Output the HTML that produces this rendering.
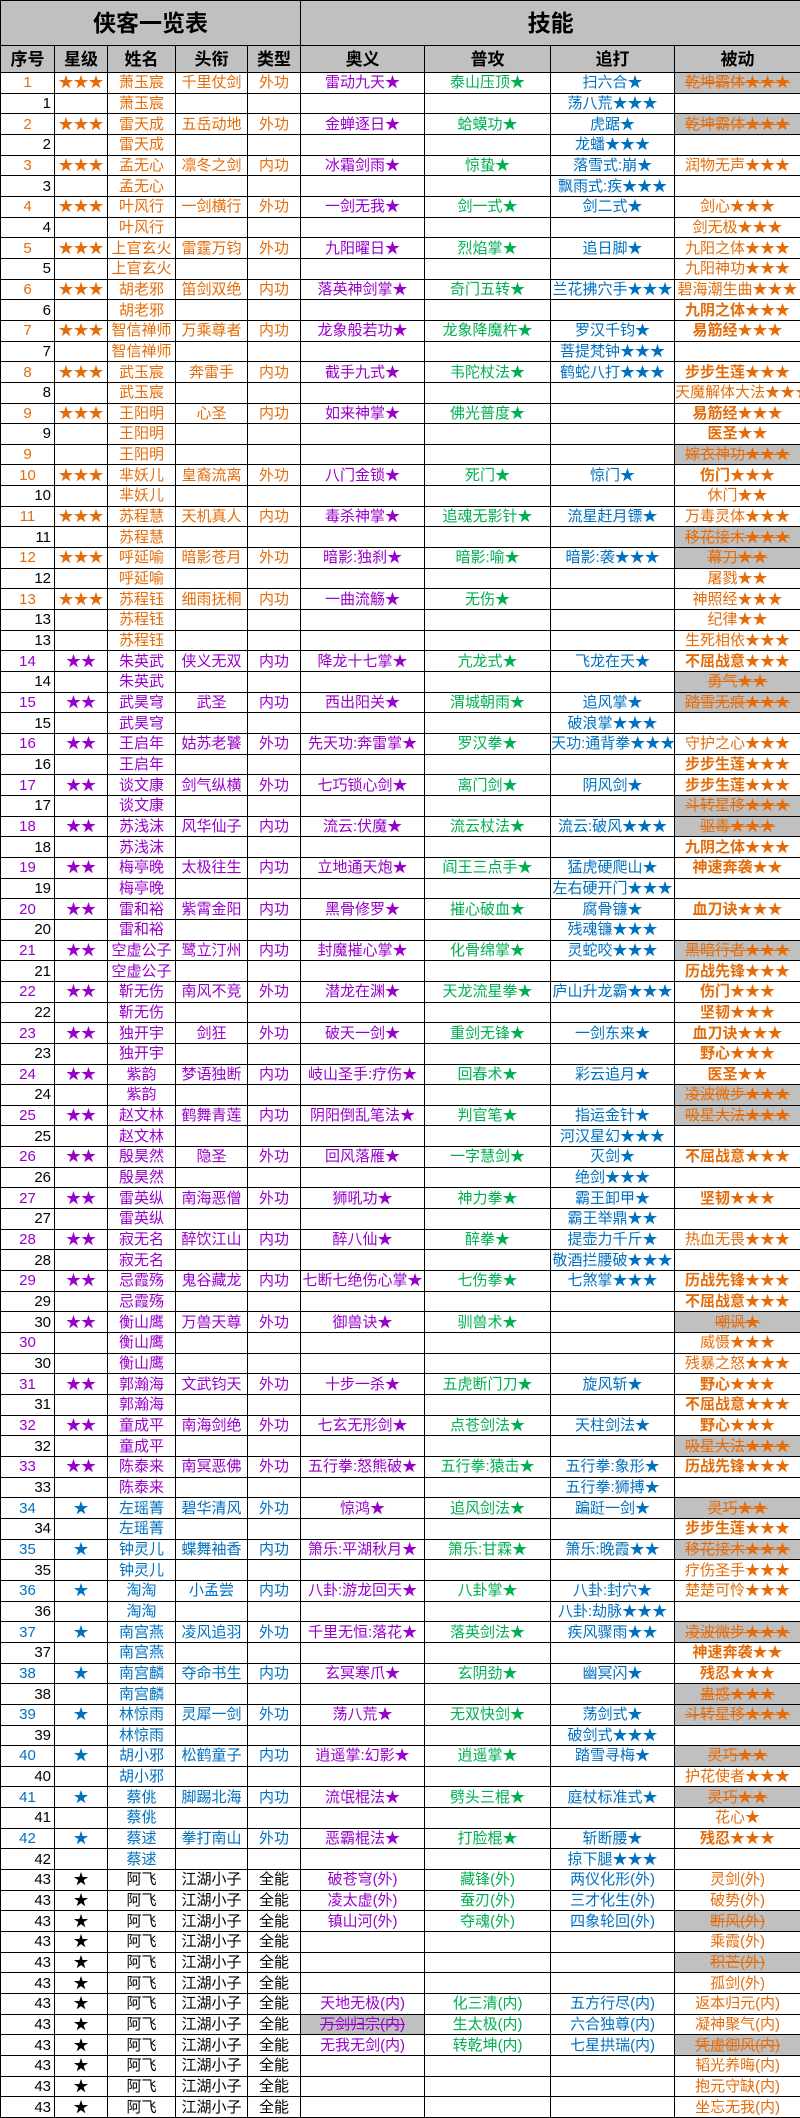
<!DOCTYPE html>
<html><head><meta charset="utf-8">
<style>
html,body{margin:0;padding:0;background:#fff;width:800px;height:2117px;overflow:hidden;}
table{border-collapse:collapse;table-layout:fixed;width:800px;position:absolute;left:0;top:0;}
td{border:1px solid #000;padding:0;text-align:center;white-space:nowrap;overflow:visible;font-size:15px;line-height:1;font-family:"Liberation Sans","Noto Sans CJK SC","WenQuanYi Zen Hei",sans-serif;}
tr{height:20.66px;}
tr.h1{height:45px;} tr.h2{height:27px;}
tr.h1 td{background:#c0c0c0;font-size:23px;font-weight:bold;}
tr.h2 td{background:#c0c0c0;font-size:17px;font-weight:bold;}
td:nth-child(6){color:#9900cc;}
td:nth-child(7){color:#00b050;}
td:nth-child(8){color:#0070c0;}
td:nth-child(9){color:#e46c0a;}
tr.a3 td:nth-child(-n+5),tr.s3 td:nth-child(-n+5){color:#e46c0a;}
tr.a2 td:nth-child(-n+5),tr.s2 td:nth-child(-n+5){color:#9900cc;}
tr.a1 td:nth-child(-n+5),tr.s1 td:nth-child(-n+5){color:#0070c0;}
tr.a0 td:nth-child(-n+5){color:#000;}
tr.s3 td:first-child,tr.s2 td:first-child,tr.s1 td:first-child,tr.a0 td:first-child{color:#000;text-align:right;padding-right:3px;}
td.g{background:#c0c0c0;text-decoration:line-through;}
td.b{font-weight:bold;}
</style></head><body>
<table>
<colgroup><col style="width:54px"><col style="width:53px"><col style="width:68px"><col style="width:72px"><col style="width:53px"><col style="width:124px"><col style="width:126px"><col style="width:124px"><col style="width:126px"></colgroup>
<tr class="h1"><td colspan="5">侠客一览表</td><td colspan="4" style="color:#000">技能</td></tr>
<tr class="h2"><td>序号</td><td>星级</td><td>姓名</td><td>头衔</td><td>类型</td><td style="color:#000">奥义</td><td style="color:#000">普攻</td><td style="color:#000">追打</td><td style="color:#000">被动</td></tr>
<tr class="a3"><td>1</td><td>★★★</td><td>萧玉宸</td><td>千里仗剑</td><td>外功</td><td>雷动九天★</td><td>泰山压顶★</td><td>扫六合★</td><td class="g">乾坤霸体★★★</td></tr>
<tr class="s3"><td>1</td><td></td><td>萧玉宸</td><td></td><td></td><td></td><td></td><td>荡八荒★★★</td><td></td></tr>
<tr class="a3"><td>2</td><td>★★★</td><td>雷天成</td><td>五岳动地</td><td>外功</td><td>金蝉逐日★</td><td>蛤蟆功★</td><td>虎踞★</td><td class="g">乾坤霸体★★★</td></tr>
<tr class="s3"><td>2</td><td></td><td>雷天成</td><td></td><td></td><td></td><td></td><td>龙蟠★★★</td><td></td></tr>
<tr class="a3"><td>3</td><td>★★★</td><td>孟无心</td><td>凛冬之剑</td><td>内功</td><td>冰霜剑雨★</td><td>惊蛰★</td><td>落雪式:崩★</td><td>润物无声★★★</td></tr>
<tr class="s3"><td>3</td><td></td><td>孟无心</td><td></td><td></td><td></td><td></td><td>飘雨式:疾★★★</td><td></td></tr>
<tr class="a3"><td>4</td><td>★★★</td><td>叶风行</td><td>一剑横行</td><td>外功</td><td>一剑无我★</td><td>剑一式★</td><td>剑二式★</td><td>剑心★★★</td></tr>
<tr class="s3"><td>4</td><td></td><td>叶风行</td><td></td><td></td><td></td><td></td><td></td><td>剑无极★★★</td></tr>
<tr class="a3"><td>5</td><td>★★★</td><td>上官玄火</td><td>雷霆万钧</td><td>外功</td><td>九阳曜日★</td><td>烈焰掌★</td><td>追日脚★</td><td>九阳之体★★★</td></tr>
<tr class="s3"><td>5</td><td></td><td>上官玄火</td><td></td><td></td><td></td><td></td><td></td><td>九阳神功★★★</td></tr>
<tr class="a3"><td>6</td><td>★★★</td><td>胡老邪</td><td>笛剑双绝</td><td>内功</td><td>落英神剑掌★</td><td>奇门五转★</td><td>兰花拂穴手★★★</td><td>碧海潮生曲★★★</td></tr>
<tr class="s3"><td>6</td><td></td><td>胡老邪</td><td></td><td></td><td></td><td></td><td></td><td class="b">九阴之体★★★</td></tr>
<tr class="a3"><td>7</td><td>★★★</td><td>智信禅师</td><td>万乘尊者</td><td>内功</td><td>龙象般若功★</td><td>龙象降魔杵★</td><td>罗汉千钧★</td><td class="b">易筋经★★★</td></tr>
<tr class="s3"><td>7</td><td></td><td>智信禅师</td><td></td><td></td><td></td><td></td><td>菩提梵钟★★★</td><td></td></tr>
<tr class="a3"><td>8</td><td>★★★</td><td>武玉宸</td><td>奔雷手</td><td>内功</td><td>截手九式★</td><td>韦陀杖法★</td><td>鹤蛇八打★★★</td><td class="b">步步生莲★★★</td></tr>
<tr class="s3"><td>8</td><td></td><td>武玉宸</td><td></td><td></td><td></td><td></td><td></td><td style="text-align:right">天魔解体大法★★★</td></tr>
<tr class="a3"><td>9</td><td>★★★</td><td>王阳明</td><td>心圣</td><td>内功</td><td>如来神掌★</td><td>佛光普度★</td><td></td><td class="b">易筋经★★★</td></tr>
<tr class="s3"><td>9</td><td></td><td>王阳明</td><td></td><td></td><td></td><td></td><td></td><td class="b">医圣★★</td></tr>
<tr class="a3"><td>9</td><td></td><td>王阳明</td><td></td><td></td><td></td><td></td><td></td><td class="g">嫁衣神功★★★</td></tr>
<tr class="a3"><td>10</td><td>★★★</td><td>芈妖儿</td><td>皇裔流离</td><td>外功</td><td>八门金锁★</td><td>死门★</td><td>惊门★</td><td class="b">伤门★★★</td></tr>
<tr class="s3"><td>10</td><td></td><td>芈妖儿</td><td></td><td></td><td></td><td></td><td></td><td>休门★★</td></tr>
<tr class="a3"><td>11</td><td>★★★</td><td>苏程慧</td><td>天机真人</td><td>内功</td><td>毒杀神掌★</td><td>追魂无影针★</td><td>流星赶月镖★</td><td>万毒灵体★★★</td></tr>
<tr class="s3"><td>11</td><td></td><td>苏程慧</td><td></td><td></td><td></td><td></td><td></td><td class="g">移花接木★★★</td></tr>
<tr class="a3"><td>12</td><td>★★★</td><td>呼延喻</td><td>暗影苍月</td><td>外功</td><td>暗影:独刹★</td><td>暗影:喻★</td><td>暗影:袭★★★</td><td class="g">幕刀★★</td></tr>
<tr class="s3"><td>12</td><td></td><td>呼延喻</td><td></td><td></td><td></td><td></td><td></td><td>屠戮★★</td></tr>
<tr class="a3"><td>13</td><td>★★★</td><td>苏程钰</td><td>细雨抚桐</td><td>内功</td><td>一曲流觞★</td><td>无伤★</td><td></td><td>神照经★★★</td></tr>
<tr class="s3"><td>13</td><td></td><td>苏程钰</td><td></td><td></td><td></td><td></td><td></td><td>纪律★★</td></tr>
<tr class="s3"><td>13</td><td></td><td>苏程钰</td><td></td><td></td><td></td><td></td><td></td><td>生死相依★★★</td></tr>
<tr class="a2"><td>14</td><td>★★</td><td>朱英武</td><td>侠义无双</td><td>内功</td><td>降龙十七掌★</td><td>亢龙式★</td><td>飞龙在天★</td><td class="b">不屈战意★★★</td></tr>
<tr class="s2"><td>14</td><td></td><td>朱英武</td><td></td><td></td><td></td><td></td><td></td><td class="g">勇气★★</td></tr>
<tr class="a2"><td>15</td><td>★★</td><td>武昊穹</td><td>武圣</td><td>内功</td><td>西出阳关★</td><td>渭城朝雨★</td><td>追风掌★</td><td class="g">踏雪无痕★★★</td></tr>
<tr class="s2"><td>15</td><td></td><td>武昊穹</td><td></td><td></td><td></td><td></td><td>破浪掌★★★</td><td></td></tr>
<tr class="a2"><td>16</td><td>★★</td><td>王启年</td><td>姑苏老饕</td><td>外功</td><td>先天功:奔雷掌★</td><td>罗汉拳★</td><td>天功:通背拳★★★</td><td>守护之心★★★</td></tr>
<tr class="s2"><td>16</td><td></td><td>王启年</td><td></td><td></td><td></td><td></td><td></td><td class="b">步步生莲★★★</td></tr>
<tr class="a2"><td>17</td><td>★★</td><td>谈文康</td><td>剑气纵横</td><td>外功</td><td>七巧锁心剑★</td><td>离门剑★</td><td>阴风剑★</td><td class="b">步步生莲★★★</td></tr>
<tr class="s2"><td>17</td><td></td><td>谈文康</td><td></td><td></td><td></td><td></td><td></td><td class="g">斗转星移★★★</td></tr>
<tr class="a2"><td>18</td><td>★★</td><td>苏浅沫</td><td>风华仙子</td><td>内功</td><td>流云:伏魔★</td><td>流云杖法★</td><td>流云:破风★★★</td><td class="g">驱毒★★★</td></tr>
<tr class="s2"><td>18</td><td></td><td>苏浅沫</td><td></td><td></td><td></td><td></td><td></td><td class="b">九阴之体★★★</td></tr>
<tr class="a2"><td>19</td><td>★★</td><td>梅亭晚</td><td>太极往生</td><td>内功</td><td>立地通天炮★</td><td>阎王三点手★</td><td>猛虎硬爬山★</td><td class="b">神速奔袭★★</td></tr>
<tr class="s2"><td>19</td><td></td><td>梅亭晚</td><td></td><td></td><td></td><td></td><td>左右硬开门★★★</td><td></td></tr>
<tr class="a2"><td>20</td><td>★★</td><td>雷和裕</td><td>紫霄金阳</td><td>内功</td><td>黑骨修罗★</td><td>摧心破血★</td><td>腐骨镰★</td><td class="b">血刀诀★★★</td></tr>
<tr class="s2"><td>20</td><td></td><td>雷和裕</td><td></td><td></td><td></td><td></td><td>残魂镰★★★</td><td></td></tr>
<tr class="a2"><td>21</td><td>★★</td><td>空虚公子</td><td>鹭立汀州</td><td>内功</td><td>封魔摧心掌★</td><td>化骨绵掌★</td><td>灵蛇咬★★★</td><td class="g">黑暗行者★★★</td></tr>
<tr class="s2"><td>21</td><td></td><td>空虚公子</td><td></td><td></td><td></td><td></td><td></td><td class="b">历战先锋★★★</td></tr>
<tr class="a2"><td>22</td><td>★★</td><td>靳无伤</td><td>南风不竞</td><td>外功</td><td>潜龙在渊★</td><td>天龙流星拳★</td><td>庐山升龙霸★★★</td><td class="b">伤门★★★</td></tr>
<tr class="s2"><td>22</td><td></td><td>靳无伤</td><td></td><td></td><td></td><td></td><td></td><td class="b">坚韧★★★</td></tr>
<tr class="a2"><td>23</td><td>★★</td><td>独开宇</td><td>剑狂</td><td>外功</td><td>破天一剑★</td><td>重剑无锋★</td><td>一剑东来★</td><td class="b">血刀诀★★★</td></tr>
<tr class="s2"><td>23</td><td></td><td>独开宇</td><td></td><td></td><td></td><td></td><td></td><td class="b">野心★★★</td></tr>
<tr class="a2"><td>24</td><td>★★</td><td>紫韵</td><td>梦语独断</td><td>内功</td><td>岐山圣手:疗伤★</td><td>回春术★</td><td>彩云追月★</td><td class="b">医圣★★</td></tr>
<tr class="s2"><td>24</td><td></td><td>紫韵</td><td></td><td></td><td></td><td></td><td></td><td class="g">凌波微步★★★</td></tr>
<tr class="a2"><td>25</td><td>★★</td><td>赵文林</td><td>鹤舞青莲</td><td>内功</td><td>阴阳倒乱笔法★</td><td>判官笔★</td><td>指运金针★</td><td class="g">吸星大法★★★</td></tr>
<tr class="s2"><td>25</td><td></td><td>赵文林</td><td></td><td></td><td></td><td></td><td>河汉星幻★★★</td><td></td></tr>
<tr class="a2"><td>26</td><td>★★</td><td>殷昊然</td><td>隐圣</td><td>外功</td><td>回风落雁★</td><td>一字慧剑★</td><td>灭剑★</td><td class="b">不屈战意★★★</td></tr>
<tr class="s2"><td>26</td><td></td><td>殷昊然</td><td></td><td></td><td></td><td></td><td>绝剑★★★</td><td></td></tr>
<tr class="a2"><td>27</td><td>★★</td><td>雷英纵</td><td>南海恶僧</td><td>外功</td><td>狮吼功★</td><td>神力拳★</td><td>霸王卸甲★</td><td class="b">坚韧★★★</td></tr>
<tr class="s2"><td>27</td><td></td><td>雷英纵</td><td></td><td></td><td></td><td></td><td>霸王举鼎★★</td><td></td></tr>
<tr class="a2"><td>28</td><td>★★</td><td>寂无名</td><td>醉饮江山</td><td>内功</td><td>醉八仙★</td><td>醉拳★</td><td>提壶力千斤★</td><td>热血无畏★★★</td></tr>
<tr class="s2"><td>28</td><td></td><td>寂无名</td><td></td><td></td><td></td><td></td><td>敬酒拦腰破★★★</td><td></td></tr>
<tr class="a2"><td>29</td><td>★★</td><td>忌霞殇</td><td>鬼谷藏龙</td><td>内功</td><td>七断七绝伤心掌★</td><td>七伤拳★</td><td>七煞掌★★★</td><td class="b">历战先锋★★★</td></tr>
<tr class="s2"><td>29</td><td></td><td>忌霞殇</td><td></td><td></td><td></td><td></td><td></td><td class="b">不屈战意★★★</td></tr>
<tr class="s2"><td>30</td><td>★★</td><td>衡山鹰</td><td>万兽天尊</td><td>外功</td><td>御兽诀★</td><td>驯兽术★</td><td></td><td class="g">嘲讽★</td></tr>
<tr class="a2"><td>30</td><td></td><td>衡山鹰</td><td></td><td></td><td></td><td></td><td></td><td>威慑★★★</td></tr>
<tr class="s2"><td>30</td><td></td><td>衡山鹰</td><td></td><td></td><td></td><td></td><td></td><td>残暴之怒★★★</td></tr>
<tr class="a2"><td>31</td><td>★★</td><td>郭瀚海</td><td>文武钧天</td><td>外功</td><td>十步一杀★</td><td>五虎断门刀★</td><td>旋风斩★</td><td class="b">野心★★★</td></tr>
<tr class="s2"><td>31</td><td></td><td>郭瀚海</td><td></td><td></td><td></td><td></td><td></td><td class="b">不屈战意★★★</td></tr>
<tr class="a2"><td>32</td><td>★★</td><td>童成平</td><td>南海剑绝</td><td>外功</td><td>七玄无形剑★</td><td>点苍剑法★</td><td>天柱剑法★</td><td class="b">野心★★★</td></tr>
<tr class="s2"><td>32</td><td></td><td>童成平</td><td></td><td></td><td></td><td></td><td></td><td class="g">吸星大法★★★</td></tr>
<tr class="a2"><td>33</td><td>★★</td><td>陈泰来</td><td>南冥恶佛</td><td>外功</td><td>五行拳:怒熊破★</td><td>五行拳:猿击★</td><td>五行拳:象形★</td><td class="b">历战先锋★★★</td></tr>
<tr class="s2"><td>33</td><td></td><td>陈泰来</td><td></td><td></td><td></td><td></td><td>五行拳:狮搏★</td><td></td></tr>
<tr class="a1"><td>34</td><td>★</td><td>左瑶菁</td><td>碧华清风</td><td>外功</td><td>惊鸿★</td><td>追风剑法★</td><td>蹁跹一剑★</td><td class="g">灵巧★★</td></tr>
<tr class="s1"><td>34</td><td></td><td>左瑶菁</td><td></td><td></td><td></td><td></td><td></td><td class="b">步步生莲★★★</td></tr>
<tr class="a1"><td>35</td><td>★</td><td>钟灵儿</td><td>蝶舞袖香</td><td>内功</td><td>箫乐:平湖秋月★</td><td>箫乐:甘霖★</td><td>箫乐:晚霞★★</td><td class="g">移花接木★★★</td></tr>
<tr class="s1"><td>35</td><td></td><td>钟灵儿</td><td></td><td></td><td></td><td></td><td></td><td>疗伤圣手★★★</td></tr>
<tr class="a1"><td>36</td><td>★</td><td>淘淘</td><td>小孟尝</td><td>内功</td><td>八卦:游龙回天★</td><td>八卦掌★</td><td>八卦:封穴★</td><td>楚楚可怜★★★</td></tr>
<tr class="s1"><td>36</td><td></td><td>淘淘</td><td></td><td></td><td></td><td></td><td>八卦:劫脉★★★</td><td></td></tr>
<tr class="a1"><td>37</td><td>★</td><td>南宫燕</td><td>凌风追羽</td><td>外功</td><td>千里无恒:落花★</td><td>落英剑法★</td><td>疾风骤雨★★</td><td class="g">凌波微步★★★</td></tr>
<tr class="s1"><td>37</td><td></td><td>南宫燕</td><td></td><td></td><td></td><td></td><td></td><td class="b">神速奔袭★★</td></tr>
<tr class="a1"><td>38</td><td>★</td><td>南宫麟</td><td>夺命书生</td><td>内功</td><td>玄冥寒爪★</td><td>玄阴劲★</td><td>幽冥闪★</td><td class="b">残忍★★★</td></tr>
<tr class="s1"><td>38</td><td></td><td>南宫麟</td><td></td><td></td><td></td><td></td><td></td><td class="g">蛊惑★★★</td></tr>
<tr class="a1"><td>39</td><td>★</td><td>林惊雨</td><td>灵犀一剑</td><td>外功</td><td>荡八荒★</td><td>无双快剑★</td><td>荡剑式★</td><td class="g">斗转星移★★★</td></tr>
<tr class="s1"><td>39</td><td></td><td>林惊雨</td><td></td><td></td><td></td><td></td><td>破剑式★★★</td><td></td></tr>
<tr class="a1"><td>40</td><td>★</td><td>胡小邪</td><td>松鹤童子</td><td>内功</td><td>逍遥掌:幻影★</td><td>逍遥掌★</td><td>踏雪寻梅★</td><td class="g">灵巧★★</td></tr>
<tr class="s1"><td>40</td><td></td><td>胡小邪</td><td></td><td></td><td></td><td></td><td></td><td>护花使者★★★</td></tr>
<tr class="a1"><td>41</td><td>★</td><td>蔡佻</td><td>脚踢北海</td><td>内功</td><td>流氓棍法★</td><td>劈头三棍★</td><td>庭杖标准式★</td><td class="g">灵巧★★</td></tr>
<tr class="s1"><td>41</td><td></td><td>蔡佻</td><td></td><td></td><td></td><td></td><td></td><td>花心★</td></tr>
<tr class="a1"><td>42</td><td>★</td><td>蔡逑</td><td>拳打南山</td><td>外功</td><td>恶霸棍法★</td><td>打脸棍★</td><td>斩断腰★</td><td class="b">残忍★★★</td></tr>
<tr class="s1"><td>42</td><td></td><td>蔡逑</td><td></td><td></td><td></td><td></td><td>掠下腿★★★</td><td></td></tr>
<tr class="a0"><td>43</td><td>★</td><td>阿飞</td><td>江湖小子</td><td>全能</td><td>破苍穹(外)</td><td>藏锋(外)</td><td>两仪化形(外)</td><td>灵剑(外)</td></tr>
<tr class="a0"><td>43</td><td>★</td><td>阿飞</td><td>江湖小子</td><td>全能</td><td>凌太虚(外)</td><td>蚕刃(外)</td><td>三才化生(外)</td><td>破势(外)</td></tr>
<tr class="a0"><td>43</td><td>★</td><td>阿飞</td><td>江湖小子</td><td>全能</td><td>镇山河(外)</td><td>夺魂(外)</td><td>四象轮回(外)</td><td class="g">断风(外)</td></tr>
<tr class="a0"><td>43</td><td>★</td><td>阿飞</td><td>江湖小子</td><td>全能</td><td></td><td></td><td></td><td>乘霞(外)</td></tr>
<tr class="a0"><td>43</td><td>★</td><td>阿飞</td><td>江湖小子</td><td>全能</td><td></td><td></td><td></td><td class="g">积芒(外)</td></tr>
<tr class="a0"><td>43</td><td>★</td><td>阿飞</td><td>江湖小子</td><td>全能</td><td></td><td></td><td></td><td>孤剑(外)</td></tr>
<tr class="a0"><td>43</td><td>★</td><td>阿飞</td><td>江湖小子</td><td>全能</td><td>天地无极(内)</td><td>化三清(内)</td><td>五方行尽(内)</td><td>返本归元(内)</td></tr>
<tr class="a0"><td>43</td><td>★</td><td>阿飞</td><td>江湖小子</td><td>全能</td><td class="g">万剑归宗(内)</td><td>生太极(内)</td><td>六合独尊(内)</td><td>凝神聚气(内)</td></tr>
<tr class="a0"><td>43</td><td>★</td><td>阿飞</td><td>江湖小子</td><td>全能</td><td>无我无剑(内)</td><td>转乾坤(内)</td><td>七星拱瑞(内)</td><td class="g">凭虚御风(内)</td></tr>
<tr class="a0"><td>43</td><td>★</td><td>阿飞</td><td>江湖小子</td><td>全能</td><td></td><td></td><td></td><td>韬光养晦(内)</td></tr>
<tr class="a0"><td>43</td><td>★</td><td>阿飞</td><td>江湖小子</td><td>全能</td><td></td><td></td><td></td><td>抱元守缺(内)</td></tr>
<tr class="a0"><td>43</td><td>★</td><td>阿飞</td><td>江湖小子</td><td>全能</td><td></td><td></td><td></td><td>坐忘无我(内)</td></tr>
</table>
</body></html>
